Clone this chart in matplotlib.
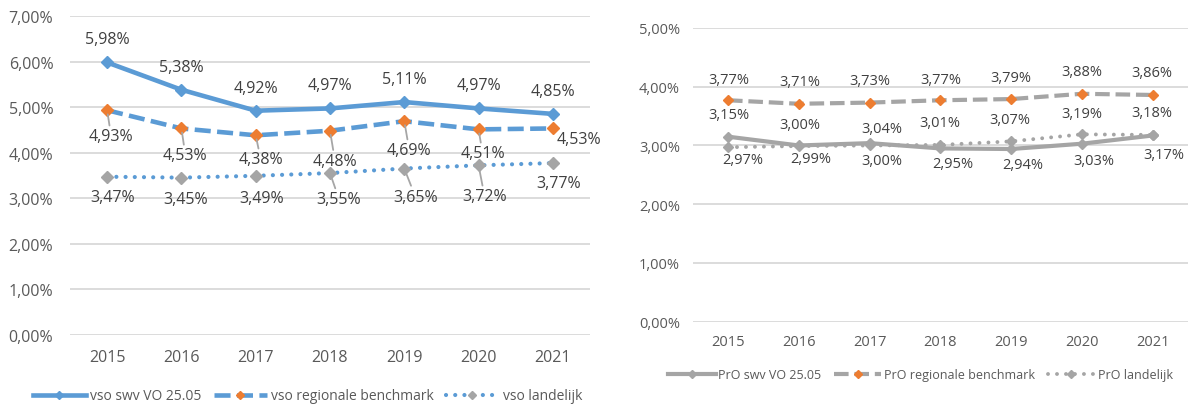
import matplotlib
matplotlib.use('Agg')
import matplotlib.pyplot as plt
from matplotlib.ticker import FuncFormatter

plt.rcParams['font.family'] = ['Open Sans', 'DejaVu Sans']

years = ['2015', '2016', '2017', '2018', '2019', '2020', '2021']

# vso (links)
vso_swv = [5.98, 5.38, 4.92, 4.97, 5.11, 4.97, 4.85]
vso_regio = [4.93, 4.53, 4.38, 4.48, 4.69, 4.51, 4.53]
vso_land = [3.47, 3.45, 3.49, 3.55, 3.65, 3.72, 3.77]

# PrO (rechts)
pro_swv = [3.15, 3.00, 3.04, 2.95, 2.94, 3.03, 3.17]
pro_regio = [3.77, 3.71, 3.73, 3.77, 3.79, 3.88, 3.86]
pro_land = [2.97, 2.99, 3.00, 3.01, 3.07, 3.19, 3.18]

BLUE = '#5B9BD5'
ORANGE = '#ED7D31'
GRAY = '#A5A5A5'
TICK = '#595959'
LAB = '#404040'

# label offsets in pixels (dx, dy naar beneden), leader lijn ja/nee
off_vso_swv = [(0, -23)] * 7
off_vso_regio = [(4, 26), (4, 27), (5, 24), (5, 30), (5, 29), (4, 24), (26, 11)]
off_vso_land = [(5, 20), (4, 21), (6, 22), (9, 26), (11, 28), (6, 31), (6, 20)]
lead_vso_regio = [1, 1, 1, 1, 1, 1, 0]
lead_vso_land = [0, 0, 0, 1, 1, 1, 0]

off_pro_swv = [(1, -22), (1, -21), (12, -15), (13, 15.5), (12, 15.6), (12, 17), (11, 19.5)]
off_pro_regio = [(1, -21), (1, -22), (0, -22), (1, -21), (0, -22), (0, -22), (-1, -22)]
off_pro_land = [(15, 12.6), (12, 12), (12, 15), (0, -22), (-1, -22), (0, -21), (-1, -22)]

fmt = FuncFormatter(lambda v, p: ('%.2f%%' % v).replace('.', ','))


def labels(ax, vals, offs, fs, leads=None):
    for i, v in enumerate(vals):
        dx, dy = offs[i]
        txt = ('%.2f%%' % v).replace('.', ',')
        kw = {}
        if leads is not None and leads[i]:
            kw['arrowprops'] = dict(arrowstyle='-', color='#A6A6A6', lw=1.3,
                                    shrinkA=0, shrinkB=3)
        ax.annotate(txt, (i, v), xytext=(dx, -dy), textcoords='offset pixels',
                    ha='center', va='center', fontsize=fs, color=LAB, zorder=5, **kw)


def style(ax, top, fs, pad_y, pad_x):
    ax.set_xlim(-0.5, 6.5)
    ax.set_ylim(0, top)
    ax.set_yticks(range(top + 1))
    ax.yaxis.set_major_formatter(fmt)
    ax.set_xticks(range(7))
    ax.set_xticklabels(years)
    for s in ax.spines.values():
        s.set_visible(False)
    ax.grid(axis='y', color='#D9D9D9', lw=1.3)
    ax.set_axisbelow(True)
    ax.tick_params(axis='y', length=0, labelsize=fs, labelcolor=TICK, pad=pad_y)
    ax.tick_params(axis='x', length=0, labelsize=fs, labelcolor=TICK, pad=pad_x)


fig = plt.figure(figsize=(11.9, 4.06), dpi=100)

# links: vso
ax1 = fig.add_axes([70 / 1190, 1 - 335.7 / 406, 520 / 1190, 318.7 / 406])
x = range(7)
ax1.plot(x, vso_swv, color=BLUE, lw=3.3, marker='D', ms=6, mfc=BLUE, mec=BLUE,
         label='vso swv VO 25.05', zorder=3)
ax1.plot(x, vso_regio, color=BLUE, lw=3.3, ls=(0, (3.5, 1.4)), marker='D', ms=6,
         mfc=ORANGE, mec=ORANGE, label='vso regionale benchmark', zorder=3)
ax1.plot(x, vso_land, color=BLUE, lw=3, ls=(0, (0.01, 2.2)), dash_capstyle='round',
         marker='D', ms=6, mfc=GRAY, mec=GRAY, label='vso landelijk', zorder=3)
style(ax1, 7, 11.5, 12, 10)
labels(ax1, vso_swv, off_vso_swv, 11.5)
labels(ax1, vso_regio, off_vso_regio, 11.5, lead_vso_regio)
labels(ax1, vso_land, off_vso_land, 11.5, lead_vso_land)
leg1 = ax1.legend(loc='center', bbox_to_anchor=(0.457, -0.192), ncol=3, frameon=False,
                  handlelength=3.8, handletextpad=0.3, columnspacing=0.9, fontsize=10,
                  labelcolor=TICK, numpoints=1)
for h in leg1.legend_handles:
    h.set_markersize(4.5)

# rechts: PrO
ax2 = fig.add_axes([692.6 / 1190, 1 - 322.7 / 406, 495.4 / 1190, 293.7 / 406])
ax2.plot(x, pro_swv, color=GRAY, lw=3, marker='D', ms=5.5, mfc=GRAY, mec=GRAY,
         label='PrO swv VO 25.05', zorder=3)
ax2.plot(x, pro_regio, color=GRAY, lw=3, ls=(0, (3.5, 1.4)), marker='D', ms=5.5,
         mfc=ORANGE, mec=ORANGE, label='PrO regionale benchmark', zorder=3)
ax2.plot(x, pro_land, color=GRAY, lw=2.8, ls=(0, (0.01, 2.3)), dash_capstyle='round',
         marker='D', ms=5.5, mfc=GRAY, mec=GRAY, label='PrO landelijk', zorder=3)
style(ax2, 5, 10.5, 9, 9)
labels(ax2, pro_swv, off_pro_swv, 10.5)
labels(ax2, pro_regio, off_pro_regio, 10.5)
labels(ax2, pro_land, off_pro_land, 10.5)
leg2 = ax2.legend(loc='center', bbox_to_anchor=(0.46, -0.181), ncol=3, frameon=False,
                  handlelength=3.8, handletextpad=0.2, columnspacing=1.0, fontsize=9,
                  labelcolor=TICK, numpoints=1)
for h in leg2.legend_handles:
    h.set_markersize(4)

fig.savefig('out.png', dpi=100)
